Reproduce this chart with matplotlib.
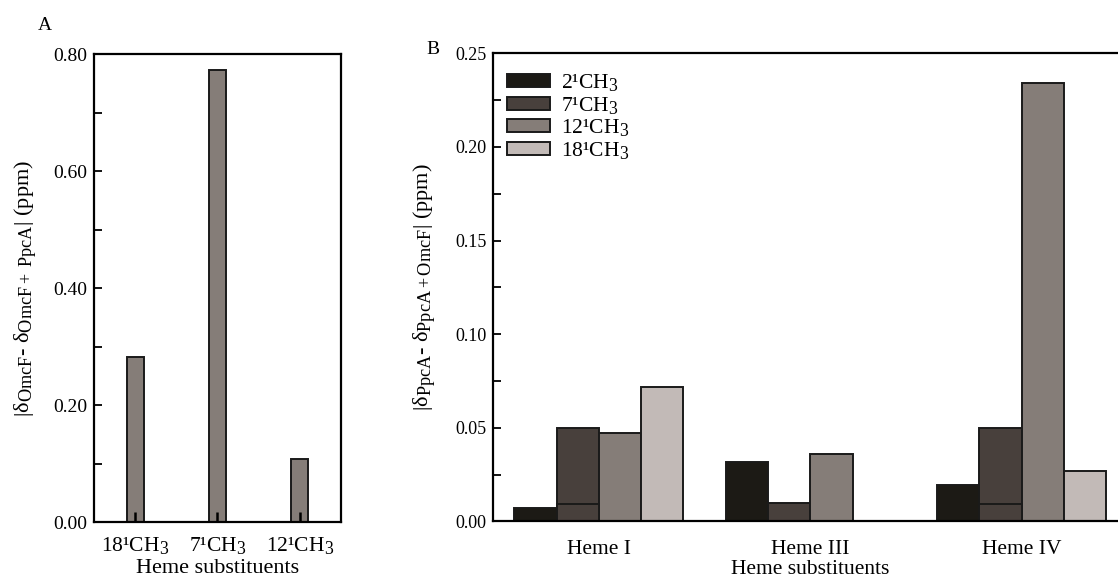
import matplotlib
matplotlib.use("Agg")
import matplotlib.pyplot as plt
from matplotlib.ticker import MultipleLocator, FormatStrFormatter
import numpy as np

plt.rcParams["font.family"] = ["Liberation Serif", "DejaVu Serif"]
plt.rcParams["mathtext.fontset"] = "custom"
plt.rcParams["mathtext.rm"] = "Liberation Serif"
plt.rcParams["mathtext.it"] = "Liberation Serif:italic"
plt.rcParams["font.size"] = 14

# the subscripts in the original are barely smaller than the base text
try:
    import matplotlib._mathtext as _mt
    _mt.SHRINK_FACTOR = 0.82
except Exception:
    pass

# Panel A data
a_labels = ["18¹CH$_{3}$", "7¹CH$_{3}$", "12¹CH$_{3}$"]
a_values = [0.283, 0.773, 0.108]

# Panel B data
b_groups = ["Heme I", "Heme III", "Heme IV"]
b_series = ["2¹CH$_{3}$", "7¹CH$_{3}$", "12¹CH$_{3}$", "18¹CH$_{3}$"]
ch3_2 = [0.0073, 0.032, 0.0195]
ch3_7 = [0.050, 0.010, 0.050]
ch3_7_inner = [0.0095, 0.0, 0.0095]   # overlapping lower segment seen inside the 7-CH3 bars
ch3_12 = [0.047, 0.0359, 0.234]
ch3_18 = [0.072, 0.0, 0.027]

colors = ["#1c1a15", "#48403c", "#857d78", "#c2bab7"]
edge = "#1a1a1a"

fig = plt.figure(figsize=(11.18, 5.88), dpi=100)

# ---------- Panel A ----------
axA = fig.add_axes([0.0841, 0.1117, 0.2207, 0.7959])
xa = np.arange(1, len(a_values) + 1)
axA.bar(xa, a_values, width=0.21, color=colors[2], edgecolor=edge, linewidth=1.4)
axA.set_xlim(0.5, 3.5)
axA.set_ylim(0, 0.8)
axA.set_xticks(xa)
axA.set_xticklabels(a_labels, fontsize=15.5)
axA.yaxis.set_major_locator(MultipleLocator(0.2))
axA.yaxis.set_minor_locator(MultipleLocator(0.1))
axA.yaxis.set_major_formatter(FormatStrFormatter("%.2f"))
axA.tick_params(axis="y", which="major", direction="in", length=6, width=1.3,
                labelsize=14, pad=5)
axA.tick_params(axis="y", which="minor", direction="in", length=6, width=1.3)
axA.tick_params(axis="x", direction="in", length=7, width=1.8, pad=9)
axA.set_xlabel("Heme substituents", fontsize=16, labelpad=2)
axA.set_ylabel(r"|δ$_{\mathrm{OmcF}}$- δ$_{\mathrm{OmcF+\ PpcA}}$| (ppm)",
               fontsize=16, labelpad=11)
for s in axA.spines.values():
    s.set_linewidth(1.6)
fig.text(0.040, 0.956, "A", fontsize=14, ha="center", va="center")

# ---------- Panel B ----------
axB = fig.add_axes([0.4412, 0.1131, 0.5671, 0.7963])
xb = np.arange(len(b_groups))
w = 0.2
series = [ch3_2, ch3_7, ch3_12, ch3_18]
for i, (vals, lab) in enumerate(zip(series, b_series)):
    axB.bar(xb + (i - 1.5) * w, vals, width=w, color=colors[i], edgecolor=edge,
            linewidth=1.4, label=lab)
axB.bar(xb - 0.5 * w, ch3_7_inner, width=w, color=colors[1], edgecolor=edge,
        linewidth=1.4)
axB.set_xlim(-0.5, 2.5)
axB.set_ylim(0, 0.25)
axB.set_xticks(xb)
axB.set_xticklabels(b_groups, fontsize=15.5)
axB.yaxis.set_major_locator(MultipleLocator(0.05))
axB.yaxis.set_minor_locator(MultipleLocator(0.025))
axB.yaxis.set_major_formatter(FormatStrFormatter("%.2f"))
axB.tick_params(axis="y", which="major", direction="in", length=6, width=1.3,
                labelsize=13, pad=5)
axB.tick_params(axis="y", which="minor", direction="in", length=6, width=1.3)
axB.tick_params(axis="x", length=0, pad=13)
axB.set_xlabel("Heme substituents", fontsize=15.5, labelpad=1)
axB.set_ylabel(r"|δ$_{\mathrm{PpcA}}$- δ$_{\mathrm{PpcA+OmcF}}$| (ppm)",
               fontsize=16, labelpad=13)
for s in axB.spines.values():
    s.set_linewidth(1.6)
axB.legend(loc="upper left", bbox_to_anchor=(0.022, 0.96), frameon=False,
           fontsize=15.5, handlelength=2.0, handleheight=0.55, handletextpad=0.5,
           labelspacing=0.08, borderpad=0, borderaxespad=0)
fig.text(0.387, 0.916, "B", fontsize=14, ha="center", va="center")

fig.savefig("out.png", dpi=100)
